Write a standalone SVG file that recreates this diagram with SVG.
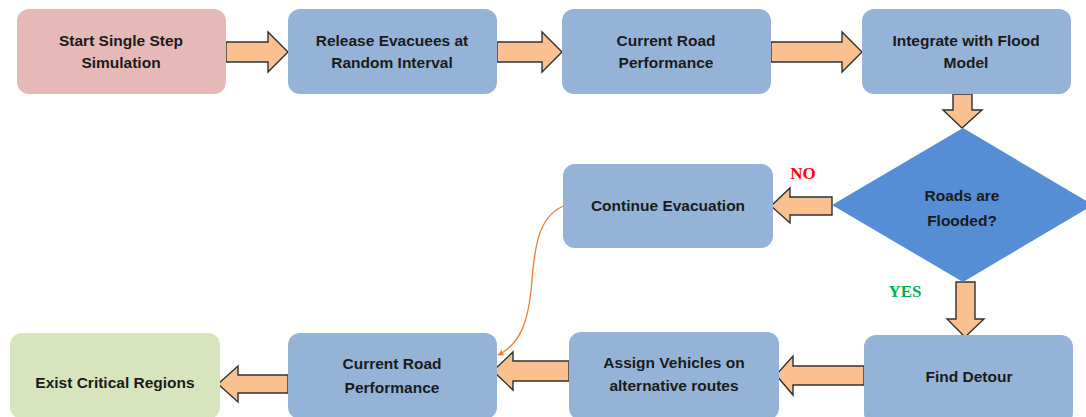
<svg xmlns="http://www.w3.org/2000/svg" width="1086" height="417" viewBox="0 0 1086 417">
  <style>
    .box { stroke: none; }
    .pink { fill: #e6b9b8; }
    .blue { fill: #95b3d7; }
    .green { fill: #d7e4bd; }
    .dia { fill: #558ed5; }
    .lbl { font-family: "Liberation Sans", Arial, sans-serif; font-weight: bold; font-size: 15.5px; fill: #1b1b1b; text-anchor: middle; }
    .arrow { fill: #fac090; stroke: #303030; stroke-width: 1.4; stroke-linejoin: miter; }
    .tag { font-family: "Liberation Serif", "Times New Roman", serif; font-weight: bold; font-size: 17px; text-anchor: middle; }
    .link { fill: none; stroke: #ed7d31; stroke-width: 1.3; }
  </style>
  <defs>
    <marker id="tip" viewBox="0 0 10 10" refX="9" refY="5" markerWidth="6" markerHeight="6" orient="auto" markerUnits="userSpaceOnUse">
      <path d="M0,0 L10,5 L0,10 z" fill="#ed7d31"/>
    </marker>
  </defs>

  <rect width="1086" height="417" fill="#ffffff"/>

  <!-- connectors: block arrows and the return link -->
  <g id="connectors">
    <!-- top row, pointing right -->
    <polygon class="arrow" points="226,42 268,42 268,32 288,52 268,72 268,62 226,62"/>
    <polygon class="arrow" points="497,42 542,42 542,32 562,52 542,72 542,62 497,62"/>
    <polygon class="arrow" points="771,42 842,42 842,32 862,52 842,72 842,62 771,62"/>
    <!-- down into decision -->
    <polygon class="arrow" points="953,94 972,94 972,110 982,110 962,128 943,110 953,110"/>
    <!-- NO branch, pointing left -->
    <polygon class="arrow" points="832,197 790,197 790,188 771,206 790,223 790,215 832,215"/>
    <!-- YES branch, pointing down -->
    <polygon class="arrow" points="956,282 975,282 975,319 984,319 965,337 947,319 956,319"/>
    <!-- bottom row, pointing left -->
    <polygon class="arrow" points="864,366 793,366 793,356 776,375 793,395 793,385 864,385"/>
    <polygon class="arrow" points="569,361 513,361 513,352 493,371 513,390 513,381 569,381"/>
    <polygon class="arrow" points="288,375 238,375 238,366 218,384 238,402 238,393 288,393"/>
    <!-- continue evacuation back to road performance -->
    <path class="link" d="M566,205 C541,214 535,240 532,280 C529,320 521,344 498,355" marker-end="url(#tip)"/>
    <text class="tag" x="803" y="179" fill="#ff0000">NO</text>
    <text class="tag" x="905" y="297" fill="#00b050">YES</text>
  </g>

  <g id="start">
    <rect class="box pink" x="17" y="9" width="209" height="85" rx="12"/>
    <text class="lbl" x="121" y="45.5">Start Single Step</text>
    <text class="lbl" x="121" y="67.5">Simulation</text>
  </g>

  <g id="release">
    <rect class="box blue" x="288" y="9" width="209" height="85" rx="12"/>
    <text class="lbl" x="392" y="45.5">Release Evacuees at</text>
    <text class="lbl" x="392" y="67.5">Random Interval</text>
  </g>

  <g id="performance1">
    <rect class="box blue" x="562" y="9" width="209" height="85" rx="12"/>
    <text class="lbl" x="666" y="45.5">Current Road</text>
    <text class="lbl" x="666" y="67.5">Performance</text>
  </g>

  <g id="flood">
    <rect class="box blue" x="862" y="9" width="209" height="85" rx="12"/>
    <text class="lbl" x="966" y="45.5">Integrate with Flood</text>
    <text class="lbl" x="966" y="67.5">Model</text>
  </g>

  <g id="decision">
    <polygon class="dia" points="963,128 1093,205 963,282 832,205"/>
    <text class="lbl" x="962" y="200.5">Roads are</text>
    <text class="lbl" x="962" y="225.5">Flooded?</text>
  </g>

  <g id="continue">
    <rect class="box blue" x="563" y="164" width="210" height="84" rx="12"/>
    <text class="lbl" x="668" y="210.5">Continue Evacuation</text>
  </g>

  <g id="detour">
    <rect class="box blue" x="864" y="335" width="209" height="90" rx="12"/>
    <text class="lbl" x="969" y="381.5">Find Detour</text>
  </g>

  <g id="assign">
    <rect class="box blue" x="569" y="332" width="210" height="88" rx="12"/>
    <text class="lbl" x="674" y="367.5">Assign Vehicles on</text>
    <text class="lbl" x="674" y="390.5">alternative routes</text>
  </g>

  <g id="performance2">
    <rect class="box blue" x="288" y="333" width="209" height="86" rx="12"/>
    <text class="lbl" x="392" y="368.5">Current Road</text>
    <text class="lbl" x="392" y="392.5">Performance</text>
  </g>

  <g id="critical">
    <rect class="box green" x="10" y="333" width="210" height="86" rx="12"/>
    <text class="lbl" x="115" y="387.5">Exist Critical Regions</text>
  </g>
</svg>
